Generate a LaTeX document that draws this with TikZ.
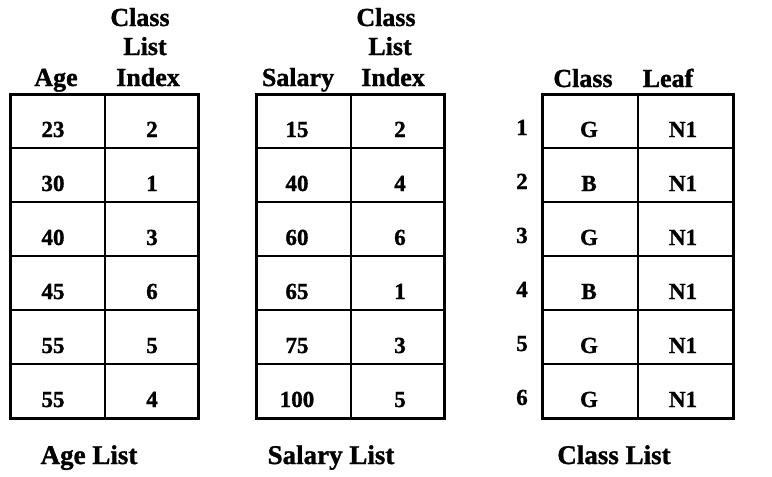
\documentclass[tikz,border=0pt]{standalone}
\usepackage{fontspec}
\setmainfont{Liberation Serif}[BoldFeatures={FakeBold=1.2}]
\tikzset{
  cell/.style={font=\fontsize{23}{25}\selectfont\bfseries, anchor=base, inner sep=0pt},
  head/.style={font=\fontsize{26}{28}\selectfont\bfseries, anchor=base, inner sep=0pt},
  caption/.style={font=\fontsize{27}{29}\selectfont\bfseries, anchor=base, inner sep=0pt},
  gridline/.style={line width=2.5pt},
  frameline/.style={line width=3pt, line join=miter},
}
\begin{document}
\begin{tikzpicture}[x=1pt,y=-1pt]
\useasboundingbox (0,0) rectangle (772,477);
% ---- tables: grids ----
\foreach \L/\M/\R in {10/105/198, 256/351/444, 542/638/733}{
  \foreach \k in {1,...,5}{
    \draw[gridline] (\L,94+54*\k) -- (\R,94+54*\k);
  }
  \draw[gridline] (\M,94) -- (\M,418);
  \draw[frameline] (\L,94) rectangle (\R,418);
}
% ---- headers ----
\node[head] (h1a) at (140,26) {Class};
\node[head] (h1b) at (145,55) {List};
\node[head] (h1c) at (56,86) {Age};
\node[head] (h1d) at (148,86) {Index};
\node[head] (h2a) at (386,26) {Class};
\node[head] (h2b) at (390,55) {List};
\node[head] (h2c) at (298,86) {Salary};
\node[head] (h2d) at (393,86) {Index};
\node[head] (h3a) at (583,87) {Class};
\node[head] (h3b) at (668,87) {Leaf};
% ---- cells ----
\foreach \a/\b [count=\i] in {23/2,30/1,40/3,45/6,55/5,55/4}{
  \node[cell] (age\i) at (53,94+54*\i-11) {\a};
  \node[cell] (ageidx\i) at (152,94+54*\i-11) {\b};
}
\foreach \a/\b [count=\i] in {15/2,40/4,60/6,65/1,75/3,100/5}{
  \node[cell] (sal\i) at (297,94+54*\i-11) {\a};
  \node[cell] (salidx\i) at (400,94+54*\i-11) {\b};
}
\foreach \a [count=\i] in {G,B,G,B,G,G}{
  \node[cell] (rn\i) at (522,94+54*\i-13) {\i};
  \node[cell] (cls\i) at (589,94+54*\i-11) {\a};
  \node[cell] (leaf\i) at (683,94+54*\i-11) {N1};
}
% ---- captions ----
\node[caption] (c1) at (89,464) {Age List};
\node[caption] (c2) at (331,464) {Salary List};
\node[caption] (c3) at (614,464) {Class List};
\end{tikzpicture}
\end{document}
